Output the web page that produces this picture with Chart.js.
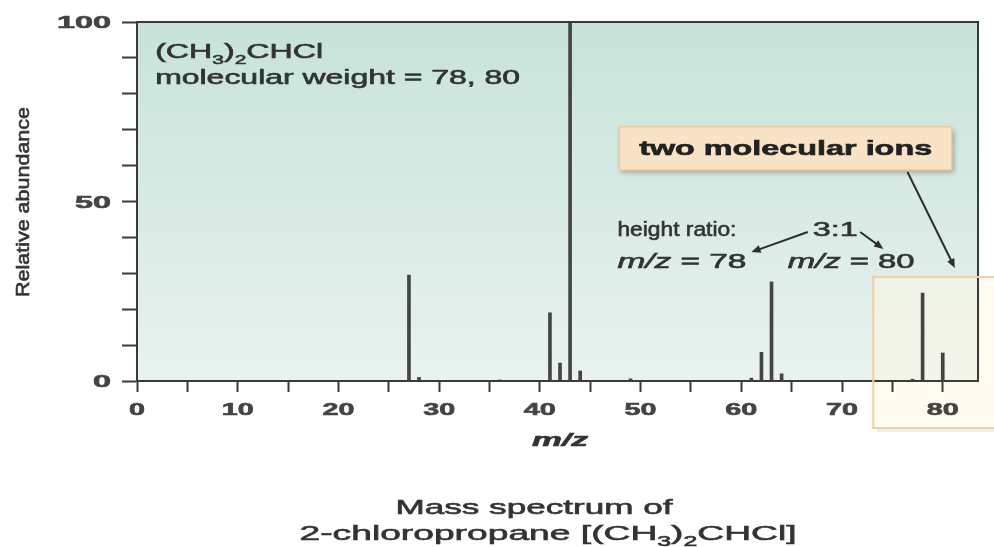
<!DOCTYPE html>
<html>
<head>
<meta charset="utf-8">
<script src="https://cdn.jsdelivr.net/npm/chart.js@4.4.0/dist/chart.umd.min.js"></script>
<style>
  html, body { margin: 0; padding: 0; background: #fff; }
</style>
</head>
<body>
<canvas id="ms" width="994" height="547"></canvas>
<script>
// m/z values and their relative abundance
const mz        = [27,   28,  36,  41, 42, 43,  44,  49,  61,  62, 63,   64, 77,  78,   80];
const abundance = [29.5, 1.0, 0.3, 19, 5,  100, 2.8, 0.6, 0.8, 8,  27.6, 2,  0.5, 24.5, 7.8];

// labelled ticks
const xTickLabels = [0, 10, 20, 30, 40, 50, 60, 70, 80];
const yTickLabels = [0, 50, 100];

const INK = "#3a3a3a";
const FONT = '"Liberation Sans", Arial, sans-serif';

// draw text squeezed/stretched to a given width (the scan is stretched sideways)
function fitText(ctx, parts, x, y, w, size, align) {
  const fontOf = (p) => (p.it ? "italic " : "") + (p.bold ? "bold " : "") +
    (p.sub ? Math.round(size * 0.65) : size) + "px " + FONT;
  let total = 0;
  parts.forEach((p) => { ctx.font = fontOf(p); p.w = ctx.measureText(p.t).width; total += p.w; });
  const k = w / total;
  ctx.save();
  ctx.translate(align === "center" ? x - w / 2 : align === "right" ? x - w : x, y);
  ctx.scale(k, 1);
  ctx.textAlign = "left";
  ctx.textBaseline = "alphabetic";
  ctx.strokeStyle = ctx.fillStyle;
  ctx.lineWidth = 0.6;
  let cx = 0;
  parts.forEach((p) => {
    ctx.font = fontOf(p);
    const dy = p.sub ? size * 0.3 : 0;
    ctx.fillText(p.t, cx, dy);
    ctx.strokeText(p.t, cx, dy);
    cx += p.w;
  });
  ctx.restore();
}

function arrow(ctx, x1, y1, x2, y2) {
  const a = Math.atan2(y2 - y1, x2 - x1);
  ctx.beginPath();
  ctx.moveTo(x1, y1);
  ctx.lineTo(x2 - 6 * Math.cos(a), y2 - 6 * Math.sin(a));
  ctx.stroke();
  ctx.beginPath();
  ctx.moveTo(x2, y2);
  ctx.lineTo(x2 - 10 * Math.cos(a - 0.4), y2 - 10 * Math.sin(a - 0.4));
  ctx.lineTo(x2 - 10 * Math.cos(a + 0.4), y2 - 10 * Math.sin(a + 0.4));
  ctx.closePath();
  ctx.fill();
}

// highlight frame round the molecular ion peaks, in m/z / abundance units
const HL_LEFT = 73.1, HL_TOP = 29, HL_BOTTOM_PX = 428;

const spectrumDecor = {
  id: "spectrumDecor",
  beforeDraw(chart) {
    const { ctx, chartArea: a, scales } = chart;
    const g = ctx.createLinearGradient(0, a.top, 0, a.bottom);
    g.addColorStop(0, "#c7e3da");
    g.addColorStop(1, "#e9f2f0");
    ctx.save();
    ctx.fillStyle = g;
    ctx.fillRect(a.left, a.top, a.right - a.left, a.bottom - a.top);
    const ox1 = scales.x.getPixelForValue(HL_LEFT), oy1 = scales.y.getPixelForValue(HL_TOP);
    ctx.fillStyle = "rgba(255,247,228,0.5)";
    ctx.fillRect(ox1, oy1, 994 - ox1, HL_BOTTOM_PX - oy1);
    ctx.fillStyle = "rgba(0,0,0,0.07)";
    ctx.fillRect(ox1 + 3, HL_BOTTOM_PX, 994 - ox1, 4);
    ctx.restore();
  },
  afterDatasetsDraw(chart) {
    const { ctx, chartArea: a, scales } = chart;
    const xs = scales.x, ys = scales.y;
    const P = (x, y) => [xs.getPixelForValue(x), ys.getPixelForValue(y)];

    ctx.save();
    // frame top + right
    ctx.strokeStyle = INK;
    ctx.lineWidth = 2;
    ctx.beginPath();
    ctx.moveTo(a.left, a.top);
    ctx.lineTo(a.right, a.top);
    ctx.lineTo(a.right, a.bottom);
    ctx.stroke();

    // tick labels
    ctx.fillStyle = "#444";
    xs.ticks.forEach((t) => {
      if (!xTickLabels.includes(t.value)) return;
      const s = String(t.value);
      fitText(ctx, [{ t: s, bold: true }], xs.getPixelForValue(t.value), 415, s.length * 16, 17, "center");
    });
    ys.ticks.forEach((t) => {
      if (!yTickLabels.includes(t.value)) return;
      const s = String(t.value);
      fitText(ctx, [{ t: s, bold: true }], 111, ys.getPixelForValue(t.value) + 6, s.length * 18, 17, "right");
    });

    // axis titles
    ctx.fillStyle = "#333";
    fitText(ctx, [{ t: "m/z", it: true, bold: true }], 560, 446, 56, 18, "center");
    ctx.save();
    ctx.translate(29, 202);
    ctx.rotate(-Math.PI / 2);
    fitText(ctx, [{ t: "Relative abundance" }], 0, 0, 190, 19, "center");
    ctx.restore();

    // caption
    fitText(ctx, [{ t: "Mass spectrum of" }], 534, 514, 277, 21, "center");
    fitText(ctx, [{ t: "2-chloropropane [(CH" }, { t: "3", sub: true }, { t: ")" }, { t: "2", sub: true }, { t: "CHCl]" }],
      548, 540, 497, 21, "center");

    // compound label
    let [lx, ly] = P(1.8, 90);
    fitText(ctx, [{ t: "(CH" }, { t: "3", sub: true }, { t: ")" }, { t: "2", sub: true }, { t: "CHCl" }], lx, ly, 168, 20, "left");
    [lx, ly] = P(1.8, 82.7);
    fitText(ctx, [{ t: "molecular weight = 78, 80" }], lx, ly, 365, 20, "left");

    // ratio notes
    [lx, ly] = P(47.7, 40.4);
    fitText(ctx, [{ t: "height ratio:" }], lx, ly, 119, 20, "left");
    [lx, ly] = P(67.1, 40.4);
    fitText(ctx, [{ t: "3:1" }], lx, ly, 45, 20, "left");
    [lx, ly] = P(47.7, 31.5);
    fitText(ctx, [{ t: "m/z", it: true }, { t: " = 78" }], lx, ly, 129, 20, "left");
    [lx, ly] = P(64.6, 31.5);
    fitText(ctx, [{ t: "m/z", it: true }, { t: " = 80" }], lx, ly, 127, 20, "left");

    ctx.strokeStyle = "#2e2e2e";
    ctx.fillStyle = "#2e2e2e";
    ctx.lineWidth = 2;
    arrow(ctx, ...P(66.6, 41.5), ...P(61.0, 35.9));
    arrow(ctx, ...P(71.8, 41.5), ...P(74.1, 36.8));
    arrow(ctx, ...P(76.5, 58.2), ...P(81.2, 31.5));

    // callout box
    const [bx1, by1] = P(47.9, 70.8);
    const [bx2, by2] = P(80.9, 58.8);
    ctx.save();
    ctx.shadowColor = "rgba(0,0,0,0.3)";
    ctx.shadowBlur = 5;
    ctx.shadowOffsetX = 2;
    ctx.shadowOffsetY = 3;
    ctx.fillStyle = "#f8e3c6";
    ctx.fillRect(bx1, by1, bx2 - bx1, by2 - by1);
    ctx.restore();
    ctx.strokeStyle = "#efcb98";
    ctx.lineWidth = 1.5;
    ctx.strokeRect(bx1, by1, bx2 - bx1, by2 - by1);
    ctx.fillStyle = "#222";
    fitText(ctx, [{ t: "two molecular ions", bold: true }], (bx1 + bx2) / 2, (by1 + by2) / 2 + 7, 293, 20, "center");

    // highlight frame outline
    const [ox1, oy1] = P(HL_LEFT, HL_TOP);
    ctx.strokeStyle = "#f1d0a4";
    ctx.lineWidth = 2;
    ctx.beginPath();
    ctx.moveTo(996, oy1);
    ctx.lineTo(ox1, oy1);
    ctx.lineTo(ox1, HL_BOTTOM_PX);
    ctx.lineTo(996, HL_BOTTOM_PX);
    ctx.stroke();
    ctx.restore();
  }
};

new Chart(document.getElementById("ms"), {
  type: "bar",
  data: {
    datasets: [{
      data: mz.map((x, i) => ({ x: x, y: abundance[i] })),
      backgroundColor: "#444",
      borderWidth: 0,
      barThickness: 3
    }]
  },
  options: {
    responsive: false,
    animation: false,
    devicePixelRatio: 1,
    layout: { padding: { top: 22, right: 16, left: 0, bottom: 0 } },
    plugins: { legend: { display: false }, tooltip: { enabled: false } },
    scales: {
      x: {
        type: "linear",
        min: 0,
        max: 83.5,
        offset: false,
        ticks: { stepSize: 5, includeBounds: false, color: "transparent", font: { size: 17 } },
        grid: { offset: false, drawOnChartArea: false, tickLength: 11, tickWidth: 2, tickColor: INK },
        border: { color: INK, width: 2 },
        afterFit: (s) => { s.height = 166; }
      },
      y: {
        min: 0,
        max: 100,
        ticks: { stepSize: 10, color: "transparent", font: { size: 17 } },
        grid: { drawOnChartArea: false, tickLength: 15, tickWidth: 2, tickColor: INK },
        border: { color: INK, width: 2 },
        afterFit: (s) => { s.width = 137; }
      }
    }
  },
  plugins: [spectrumDecor]
});
</script>
</body>
</html>
